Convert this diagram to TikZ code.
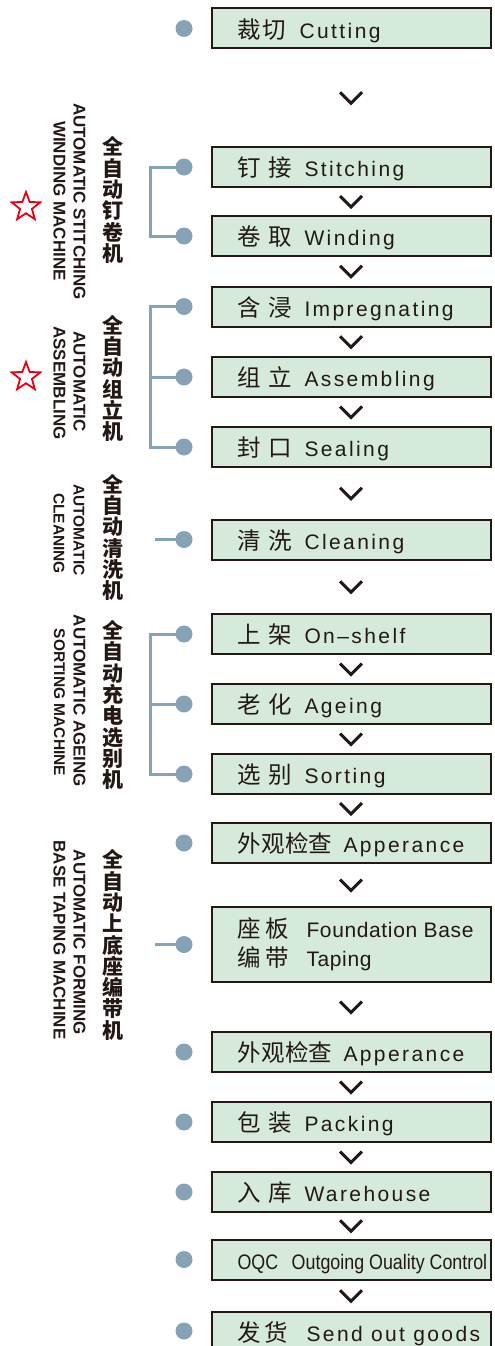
\documentclass[tikz,border=0pt]{standalone}
\usepackage{fontspec}
\usepackage{graphicx}
\usetikzlibrary{calc,shapes.geometric}
\setmainfont{Liberation Sans}
\newfontfamily\lat{Liberation Sans}[LetterSpace=11.5]
\newfontfamily\latf{Liberation Sans}[LetterSpace=3]
\newfontfamily\latn{Liberation Sans}
\newfontfamily\labf{Liberation Sans}
\newfontfamily\cjk{Noto Sans CJK SC}
\newfontfamily\cjkb{Noto Sans CJK SC}
\definecolor{boxfill}{RGB}{213,234,218}
\definecolor{ink}{RGB}{35,24,21}
\definecolor{dotc}{RGB}{134,163,181}
\definecolor{starred}{RGB}{230,0,18}
\newcommand\bt[3]{\makebox[227pt][l]{\makebox[#1][l]{\cjk\fontsize{23.5}{25}\selectfont #2}#3}}
\newcommand\chevron[2]{\draw[chev] ($(#1.south)!0.5!(#2.north)$) ++(-11,-5.5) -- ++(11,11) -- ++(11,-11);}
\begin{document}
\begin{tikzpicture}[x=1pt,y=-1pt,
  box/.style={draw=ink, fill=boxfill, line width=2pt, minimum width=279pt, minimum height=40pt,
    inner xsep=26pt, inner ysep=0pt, text height=19pt, text depth=0pt, text=ink,
    font=\lat\fontsize{21}{25}\selectfont},
  dot/.style={circle, fill=dotc, minimum size=17pt, inner sep=0pt},
  brk/.style={draw=dotc, line width=3pt},
  chev/.style={draw=ink, line width=3pt},
  cnlab/.style={align=center, text=ink, inner sep=0pt,
    font=\cjkb\bfseries\fontsize{21}{21.3}\selectfont},
  enlab/.style={rotate=-90, text=ink, inner sep=0pt,
    font=\labf\bfseries\fontsize{17}{20}\selectfont},
  enlabs/.style={enlab, font=\labf\bfseries\fontsize{15.5}{18}\selectfont},
  starmark/.style={star, star points=5, star point ratio=2.4, minimum size=30pt,
    inner sep=0pt, draw=starred, line width=1.8pt}
]
\useasboundingbox (0,0) rectangle (495,1346);

% process boxes
\node[box] (cut)  at (351,28.5)  {\bt{62pt}{裁\hspace{1.5pt}切}{Cutting}};
\node[box] (sti)  at (351,167)   {\bt{67pt}{钉\hspace{7.5pt}接}{Stitching}};
\node[box] (win)  at (351,236)   {\bt{67pt}{卷\hspace{7.5pt}取}{Winding}};
\node[box] (imp)  at (351,306.5) {\bt{67pt}{含\hspace{7.5pt}浸}{Impregnating}};
\node[box] (ass)  at (351,377)   {\bt{67pt}{组\hspace{7.5pt}立}{Assembling}};
\node[box] (sea)  at (351,447)   {\bt{67pt}{封\hspace{7.5pt}口}{Sealing}};
\node[box] (cle)  at (351,539.5) {\bt{67pt}{清\hspace{7.5pt}洗}{Cleaning}};
\node[box] (ons)  at (351,634)   {\bt{67pt}{上\hspace{7.5pt}架}{On–shelf}};
\node[box] (age)  at (351,704)   {\bt{67pt}{老\hspace{7.5pt}化}{Ageing}};
\node[box] (sor)  at (351,774)   {\bt{67pt}{选\hspace{7.5pt}别}{Sorting}};
\node[box] (app)  at (351,843)   {\bt{106pt}{外\hspace{0.3pt}观\hspace{0.3pt}检\hspace{0.3pt}查}{Apperance}};
\node[box, minimum height=75pt, text height=14pt, text depth=29pt,
      font=\latf\fontsize{21}{29}\selectfont] (fou) at (351,944.5)
      {\vtop{\baselineskip=29pt\hbox{\bt{69pt}{座\hspace{4.5pt}板}{Foundation Base}}\hbox{\bt{69pt}{编\hspace{4.5pt}带}{Taping}}}};
\node[box] (app2) at (351,1052)  {\bt{106pt}{外\hspace{0.3pt}观\hspace{0.3pt}检\hspace{0.3pt}查}{Apperance}};
\node[box] (pac)  at (351,1122)  {\bt{67pt}{包\hspace{7.5pt}装}{Packing}};
\node[box] (war)  at (351,1192)  {\bt{67pt}{入\hspace{7.5pt}库}{Warehouse}};
\node[box] (oqc)  at (351,1259.5) {\makebox[227pt][l]{\scalebox{0.85}[1]{\latn OQC\hspace{16pt}Outgoing Ouality Control}}};
\node[box] (sen)  at (351,1332)  {\bt{69pt}{发\hspace{3.5pt}货}{Send out goods}};

% chevrons
\chevron{cut}{sti}
\chevron{sti}{win}
\chevron{win}{imp}
\chevron{imp}{ass}
\chevron{ass}{sea}
\chevron{sea}{cle}
\chevron{cle}{ons}
\chevron{ons}{age}
\chevron{age}{sor}
\chevron{sor}{app}
\chevron{app}{fou}
\chevron{fou}{app2}
\chevron{app2}{pac}
\chevron{pac}{war}
\chevron{war}{oqc}
\chevron{oqc}{sen}

% dots
\node[dot] (dcut) at (184,28.5) {};
\node[dot] (dsti) at (184,167) {};
\node[dot] (dwin) at (184,236) {};
\node[dot] (dimp) at (184,306.5) {};
\node[dot] (dass) at (184,377) {};
\node[dot] (dsea) at (184,447) {};
\node[dot] (dcle) at (184,539.5) {};
\node[dot] (dons) at (184,634) {};
\node[dot] (dage) at (184,704) {};
\node[dot] (dsor) at (184,774) {};
\node[dot] (dapp) at (184,843) {};
\node[dot] (dfou) at (184,944.5) {};
\node[dot] (dapp2) at (184,1052) {};
\node[dot] (dpac) at (184,1122) {};
\node[dot] (dwar) at (184,1192) {};
\node[dot] (doqc) at (184,1259.5) {};
\node[dot] (dsen) at (184,1331) {};

% brackets
\draw[brk] (dsti.center) -- ++(-34,0) |- (dwin.center);
\draw[brk] (dimp.center) -- ++(-34,0) |- (dsea.center);
\draw[brk] (dass.center) -- ++(-34,0);
\draw[brk] (dons.center) -- ++(-34,0) |- (dsor.center);
\draw[brk] (dage.center) -- ++(-34,0);
\coordinate (ccle) at (155,539.5);
\coordinate (cfou) at (155,944.5);
\draw[brk] (ccle) -- (dcle.center);
\draw[brk] (cfou) -- (dfou.center);

% machine labels
\node[cnlab] (c1) at (113,200)   {全\\自\\动\\钉\\卷\\机};
\node[enlab] (e1a) at (79.5,201.5) {AUTOMATIC STITCHING};
\node[enlab] (e1b) at (59.5,201)   {WINDING MACHINE};
\node[starmark] (s1) at (26,207) {};

\node[cnlab] (c2) at (113,378.5) {全\\自\\动\\组\\立\\机};
\node[enlab] (e2a) at (79.5,381.5) {AUTOMATIC};
\node[enlab] (e2b) at (59.5,383)   {ASSEMBLING};
\node[starmark] (s2) at (26,377) {};

\node[cnlab] (c3) at (113,537.5) {全\\自\\动\\清\\洗\\机};
\node[enlabs] (e3a) at (79,530)    {AUTOMATIC};
\node[enlabs] (e3b) at (59,533.5)  {CLEANING};

\node[cnlab] (c4) at (113,705)   {全\\自\\动\\充\\电\\选\\别\\机};
\node[enlab] (e4a) at (79.5,701)   {AUTOMATIC AGEING};
\node[enlabs] (e4b) at (59.5,702.5) {SORTING MACHINE};

\node[cnlab] (c5) at (113,945)   {全\\自\\动\\上\\底\\座\\编\\带\\机};
\node[enlab] (e5a) at (79.5,942.5) {AUTOMATIC FORMING};
\node[enlab] (e5b) at (59.5,940)   {BASE TAPING MACHINE};
\end{tikzpicture}
\end{document}
